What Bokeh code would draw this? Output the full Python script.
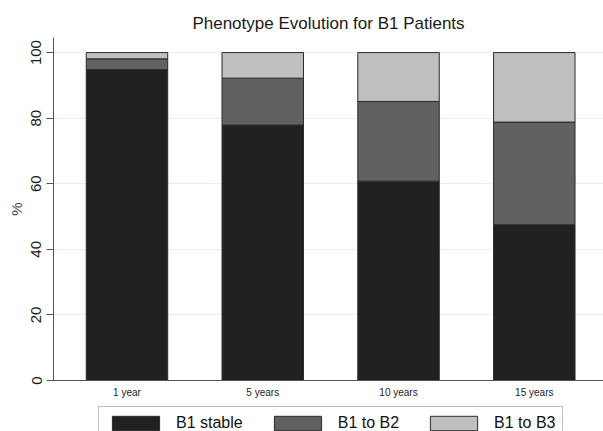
from bokeh.plotting import figure
from bokeh.layouts import column
from bokeh.models import Range1d, FixedTicker, Legend, LegendItem
from bokeh.embed import file_html
from bokeh.resources import INLINE

categories = ["1 year", "5 years", "10 years", "15 years"]
positions = [1, 2, 3, 4]
b1_stable = [94.8, 77.9, 60.8, 47.5]
b1_to_b2 = [3.3, 14.3, 24.3, 31.3]
b1_to_b3 = [1.9, 7.8, 14.9, 21.2]
series_names = ["B1 stable", "B1 to B2", "B1 to B3"]
series_colors = ["#212121", "#616161", "#bfbfbf"]
y_ticks = [0, 20, 40, 60, 80, 100]

data = dict(x=positions, s1=b1_stable, s2=b1_to_b2, s3=b1_to_b3)

p = figure(width=603, height=400, output_backend="svg", toolbar_location=None,
           x_range=Range1d(0.4587, 4.5097), y_range=Range1d(0, 104.6),
           min_border_left=53, min_border_right=0, min_border_top=37,
           min_border_bottom=18)
p.title.text = "Phenotype Evolution for B1 Patients"
p.title.text_font = "Liberation Sans"
p.title.text_font_style = "normal"
p.title.text_font_size = "17px"
p.title.align = "center"
p.title.offset = 2
p.title.text_color = "#1a1a1a"

renderers = p.vbar_stack(["s1", "s2", "s3"], x="x", width=0.6, source=data,
                         fill_color=series_colors, line_color="#2a2a2a",
                         line_width=1)

p.outline_line_color = None
p.xgrid.grid_line_color = None
p.ygrid.grid_line_color = "#e6eff1"
p.ygrid.ticker = FixedTicker(ticks=y_ticks)

p.xaxis.ticker = FixedTicker(ticks=positions)
p.xaxis.major_label_overrides = {pos: lab for pos, lab in zip(positions, categories)}
p.xaxis.major_tick_out = 0
p.xaxis.major_tick_in = 0
p.xaxis.minor_tick_out = 0
p.xaxis.minor_tick_in = 0
p.xaxis.major_label_text_font = "Liberation Sans"
p.xaxis.major_label_text_font_size = "10px"
p.xaxis.major_label_text_color = "#222222"
p.xaxis.major_label_standoff = 6
p.xaxis.axis_line_color = "#555555"

p.yaxis.ticker = FixedTicker(ticks=y_ticks)
p.yaxis.major_tick_out = 7
p.yaxis.major_tick_in = 0
p.yaxis.minor_tick_out = 0
p.yaxis.minor_tick_in = 0
p.yaxis.major_tick_line_color = "#555555"
p.yaxis.axis_line_color = "#555555"
p.yaxis.major_label_orientation = "vertical"
p.yaxis.major_label_text_font = "Liberation Sans"
p.yaxis.major_label_text_font_size = "15px"
p.yaxis.major_label_text_color = "#1a1a1a"
p.yaxis.major_label_standoff = 5
p.yaxis.axis_label = "%"
p.yaxis.axis_label_text_font = "Liberation Sans"
p.yaxis.axis_label_text_font_style = "normal"
p.yaxis.axis_label_text_font_size = "15px"
p.yaxis.axis_label_standoff = 4

# legend strip below the plot (cut by the window bottom, as in the reference)
q = figure(width=603, height=31, output_backend="svg", toolbar_location=None,
           x_range=Range1d(0, 1), y_range=Range1d(0, 1),
           x_axis_type=None, y_axis_type=None,
           min_border_left=0, min_border_right=0, min_border_top=0,
           min_border_bottom=0)
q.outline_line_color = None
q.border_fill_color = "white"
q.xgrid.grid_line_color = None
q.ygrid.grid_line_color = None
# one far off-screen bar per series so that the legend swatches are drawn
leg_renderers = [
    q.vbar(x=[50], top=[60], bottom=[55], width=0.6,
           fill_color=c, line_color="#2a2a2a", line_width=1)
    for c in series_colors
]

items = [LegendItem(label=name, renderers=[r]) for name, r in zip(series_names, leg_renderers)]
legend = Legend(items=items, orientation="horizontal", location=(45, -9),
                glyph_width=59, glyph_height=18, label_standoff=11, spacing=25,
                padding=7, margin=0, border_line_color="#808080",
                label_text_font="Liberation Sans", label_text_font_size="16px",
                label_text_color="#111111", background_fill_alpha=1)
q.add_layout(legend, "center")

layout = column(p, q, spacing=0)
open("out.html", "w").write(file_html(layout, INLINE))
